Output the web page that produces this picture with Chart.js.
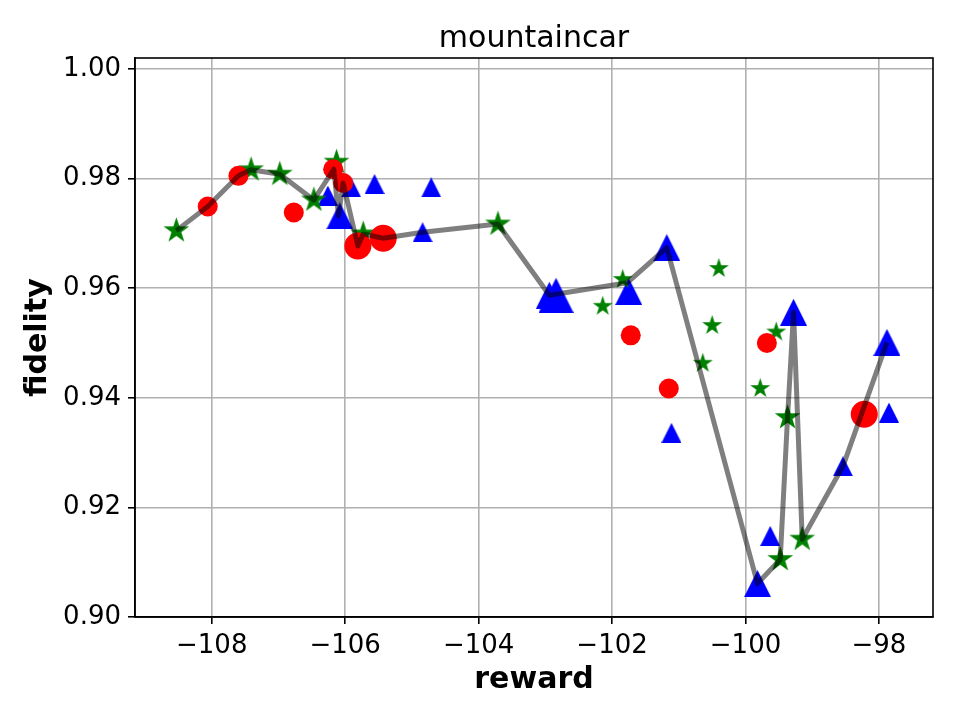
<!DOCTYPE html>
<html><head><meta charset="utf-8">
<script src="https://cdn.jsdelivr.net/npm/chart.js@4.4.0/dist/chart.umd.min.js"></script>
<style>html,body{margin:0;padding:0;background:#fff}</style>
</head><body>
<canvas id="c" width="960" height="720"></canvas>
<script>
// ---- data ----
const chartTitle = 'mountaincar';
const xLabel = 'reward';
const yLabel = 'fidelity';

// red circles
const circleX = [-108.06, -107.60, -106.77, -106.18, -106.03, -105.81, -105.43, -101.72, -101.15, -99.68, -98.22];
const circleY = [0.9749, 0.9805, 0.9738, 0.9817, 0.9792, 0.9677, 0.9691, 0.9514, 0.9417, 0.9500, 0.9370];
const circleLevel = [1, 1, 1, 1, 1, 2, 2, 1, 1, 1, 2];

// green stars
const starX = [-108.53, -107.41, -106.98, -106.47, -106.13, -105.73, -103.71, -102.14, -101.84, -100.40, -100.50, -100.64, -99.54, -99.78, -99.37, -99.48, -99.15];
const starY = [0.9705, 0.9816, 0.9808, 0.9761, 0.9830, 0.9699, 0.9717, 0.9567, 0.9616, 0.9636, 0.9532, 0.9463, 0.9520, 0.9417, 0.9364, 0.9105, 0.9142];
const starLevel = [2, 2, 2, 2, 2, 2, 2, 1, 1, 1, 1, 1, 1, 1, 2, 2, 2];

// blue triangles
const triX = [-106.26, -105.91, -106.08, -105.56, -104.71, -104.84, -102.94, -102.84, -101.75, -101.18, -101.11, -99.28, -99.82, -99.63, -98.54, -97.88, -97.85];
const triY = [0.9769, 0.9784, 0.9732, 0.9790, 0.9784, 0.9702, 0.9587, 0.9587, 0.9594, 0.9674, 0.9336, 0.9556, 0.9061, 0.9148, 0.9275, 0.9501, 0.9373];
const triLevel = [1, 1, 2, 1, 1, 1, 2, 3, 2, 2, 1, 2, 2, 1, 1, 2, 1];

// connecting line
const lineX = [-108.53, -108.06, -107.60, -107.41, -106.98, -106.47, -106.17, -106.10, -106.03, -105.81, -105.73, -105.43, -104.84, -103.71, -102.94, -101.77, -101.18, -99.82, -99.48, -99.37, -99.28, -99.15, -98.54, -97.88];
const lineY = [0.9705, 0.9749, 0.9805, 0.9816, 0.9808, 0.9761, 0.9817, 0.9732, 0.9792, 0.9677, 0.9699, 0.9691, 0.9702, 0.9717, 0.9587, 0.9610, 0.9674, 0.9061, 0.9105, 0.9364, 0.9556, 0.9142, 0.9275, 0.9501];

const xTicks = [-108, -106, -104, -102, -100, -98];
const yTicks = [0.90, 0.92, 0.94, 0.96, 0.98, 1.00];

// ---- styles ----
const circleRadius = {1: 10, 2: 13.5};
const starRadius = {1: 10.5, 2: 13.5};
const triSize = {1: 20, 2: 27, 3: 35};

function makeStar(R, color) {
  const s = Math.ceil(2 * R) + 2;
  const cv = document.createElement('canvas');
  cv.width = s; cv.height = s;
  const g = cv.getContext('2d');
  const c = s / 2, r = R * 0.381966;
  g.beginPath();
  for (let i = 0; i < 10; i++) {
    const a = -Math.PI / 2 + i * Math.PI / 5;
    const rr = i % 2 === 0 ? R : r;
    const px = c + rr * Math.cos(a), py = c + rr * Math.sin(a);
    if (i === 0) g.moveTo(px, py); else g.lineTo(px, py);
  }
  g.closePath();
  g.fillStyle = color; g.fill();
  return cv;
}
function makeTri(w, color) {
  const cv = document.createElement('canvas');
  cv.width = w; cv.height = w;
  const g = cv.getContext('2d');
  g.beginPath();
  g.moveTo(w / 2, 0); g.lineTo(w, w); g.lineTo(0, w); g.closePath();
  g.fillStyle = color; g.fill();
  return cv;
}
const starImgs = {1: makeStar(starRadius[1], '#008000'), 2: makeStar(starRadius[2], '#008000')};
const triImgs = {1: makeTri(triSize[1], '#0000ff'), 2: makeTri(triSize[2], '#0000ff'), 3: makeTri(triSize[3], '#0000ff')};

const zip = (xs, ys) => xs.map((x, i) => ({x: x, y: ys[i]}));

const frame = {
  id: 'frame',
  afterDraw(chart) {
    const a = chart.chartArea, ctx = chart.ctx;
    ctx.save();
    ctx.strokeStyle = '#000'; ctx.lineWidth = 1.6;
    ctx.strokeRect(a.left, a.top, a.right - a.left, a.bottom - a.top);
    ctx.restore();
  }
};

const FONT = 'DejaVu Sans';
const X_MIN = -109.15, X_MAX = -97.19;
new Chart(document.getElementById('c'), {
  type: 'scatter',
  data: {
    datasets: [
      {
        type: 'line', data: zip(lineX, lineY), order: 0,
        borderColor: 'rgba(0,0,0,0.5)', borderWidth: 5, pointRadius: 0,
        fill: false, tension: 0, borderJoinStyle: 'round', borderCapStyle: 'butt'
      },
      {
        data: zip(circleX, circleY), order: 1,
        backgroundColor: '#ff0000', borderWidth: 0,
        pointStyle: 'circle',
        pointRadius: ctx => circleRadius[circleLevel[ctx.dataIndex]]
      },
      {
        data: zip(starX, starY), order: 2,
        pointStyle: ctx => starImgs[starLevel[ctx.dataIndex]],
        pointRadius: 10
      },
      {
        data: zip(triX, triY), order: 3,
        pointStyle: ctx => triImgs[triLevel[ctx.dataIndex]],
        pointRadius: 10
      }
    ]
  },
  options: {
    responsive: false, animation: false, devicePixelRatio: 1,
    events: [],
    layout: {padding: {left: 0, right: 27, top: 0, bottom: 0}},
    plugins: {
      legend: {display: false},
      tooltip: {enabled: false},
      title: {display: false}
    },
    scales: {
      x: {
        type: 'linear', position: 'bottom', min: X_MIN, max: X_MAX, bounds: 'data',
        afterBuildTicks: s => { s.ticks = xTicks.map(v => ({value: v})); },
        afterFit: s => { s.height = 103; },
        ticks: {
          color: '#000', font: {family: FONT, size: 26}, padding: 7, maxRotation: 0,
          callback: v => String(v).replace('-', '\u2212')
        },
        grid: {color: '#b0b0b0', lineWidth: 1.6, tickColor: '#000', tickLength: 7, tickWidth: 1.6},
        border: {color: '#000', width: 1.6},
        title: {display: true, text: xLabel, color: '#000', font: {family: FONT, size: 30, weight: 'bold'}, padding: {top: 4, bottom: 22}}
      },
      xTop: {
        type: 'linear', position: 'top', min: X_MIN, max: X_MAX, bounds: 'data',
        afterFit: s => { s.height = 58; },
        ticks: {display: false},
        grid: {display: false, drawTicks: false},
        border: {display: false},
        title: {display: true, text: chartTitle, color: '#000', font: {family: FONT, size: 30, weight: 'normal'}, padding: {top: 21, bottom: 0}}
      },
      y: {
        type: 'linear', min: 0.90, max: 1.002, bounds: 'data',
        afterBuildTicks: s => { s.ticks = yTicks.map(v => ({value: v})); },
        afterFit: s => { s.width = 135; },
        ticks: {
          color: '#000', font: {family: FONT, size: 26}, padding: 7,
          callback: v => Number(v).toFixed(2)
        },
        grid: {color: '#b0b0b0', lineWidth: 1.6, tickColor: '#000', tickLength: 7, tickWidth: 1.6},
        border: {color: '#000', width: 1.6},
        title: {display: true, text: yLabel, color: '#000', font: {family: FONT, size: 30, weight: 'bold'}, padding: {top: 20, bottom: 0}}
      }
    }
  },
  plugins: [frame]
});
</script>
</body></html>
